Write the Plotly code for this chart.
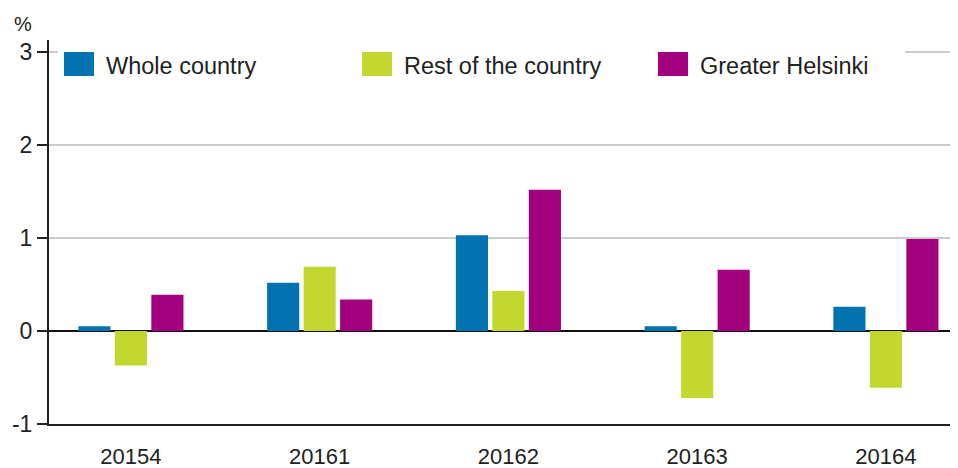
import plotly.graph_objects as go

quarters = ["20154", "20161", "20162", "20163", "20164"]
whole_country = [0.05, 0.52, 1.03, 0.05, 0.26]
rest_of_country = [-0.37, 0.69, 0.43, -0.72, -0.61]
greater_helsinki = [0.39, 0.34, 1.52, 0.66, 0.99]

series_names = ["Whole country", "Rest of the country", "Greater Helsinki"]
series_values = [whole_country, rest_of_country, greater_helsinki]
colors = ["#0073b0", "#c3d82e", "#a3007f"]
y_ticks = [-1, 0, 1, 2, 3]
y_tick_text = ["-1", "0", "1", "2", "3"]

font = "Liberation Sans, Arial, sans-serif"

fig = go.Figure()
for name, vals, col in zip(series_names, series_values, colors):
    fig.add_trace(go.Bar(x=quarters, y=vals, name=name, marker_color=col,
                         marker_line_width=0, showlegend=False))

# the page body adds an 8px offset, so the figure is 8px smaller than the window;
# plot area ends up at 49..955 x 40..424 in window pixels
def px_x(p):
    return (p - 49) / 906


def px_y(p):
    return (424 - p) / 384


shapes = [dict(type="rect", xref="paper", yref="paper", layer="above",
               x0=px_x(58), x1=px_x(905), y0=px_y(84), y1=px_y(44),
               fillcolor="white", line_width=0)]
annotations = [dict(text="%", xref="paper", yref="paper", x=px_x(23), y=px_y(24),
                    xanchor="center", yanchor="middle", showarrow=False,
                    font=dict(size=20, color="#222", family=font))]
legend_x = [64, 362, 658]
for name, col, lx in zip(series_names, colors, legend_x):
    shapes.append(dict(type="rect", xref="paper", yref="paper", layer="above",
                       x0=px_x(lx), x1=px_x(lx + 30), y0=px_y(76), y1=px_y(52),
                       fillcolor=col, line_width=0))
    annotations.append(dict(text=name, xref="paper", yref="paper",
                            x=px_x(lx + 40), y=px_y(66), xanchor="left", yanchor="middle",
                            showarrow=False, font=dict(size=23.5, color="#222", family=font)))

fig.update_layout(
    width=950, height=460,
    margin=dict(l=41, r=3, t=32, b=44),
    plot_bgcolor="white", paper_bgcolor="white",
    barmode="group", bargap=0.42, bargroupgap=0.12,
    font=dict(family=font, size=23, color="#222"),
    shapes=shapes, annotations=annotations,
    xaxis=dict(range=[-0.434, 4.366], showline=True, linecolor="#222", linewidth=2,
               ticks="", ticklabelstandoff=12, showgrid=False, automargin=False,
               tickfont=dict(size=22)),
    yaxis=dict(range=[-1, 3.13], tickvals=y_ticks, ticktext=y_tick_text,
               showline=True, linecolor="#222", linewidth=2,
               ticks="outside", ticklen=10, tickwidth=2, tickcolor="#222",
               gridcolor="#cccccc", gridwidth=1.5, automargin=False,
               zeroline=True, zerolinecolor="#111", zerolinewidth=2),
)

fig.write_html("out.html")
